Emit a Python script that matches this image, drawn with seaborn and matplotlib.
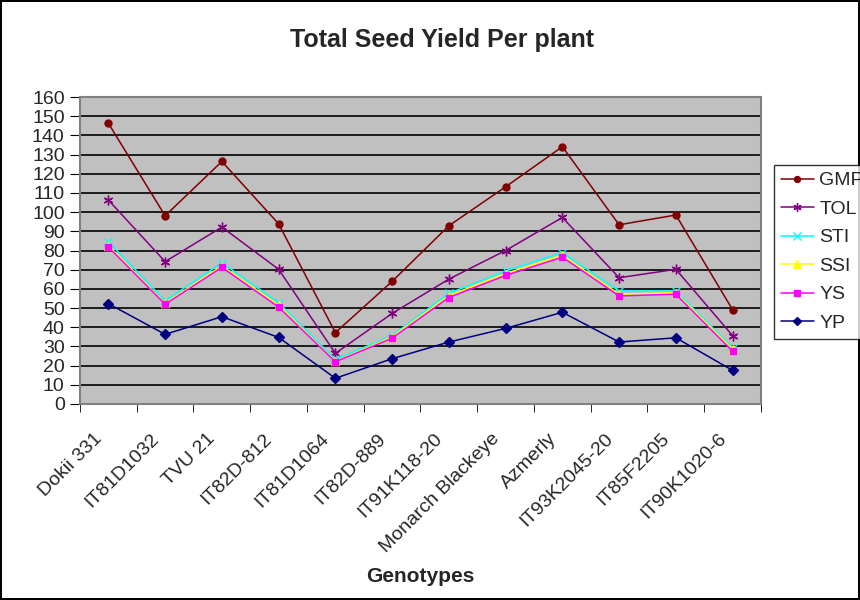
import numpy as np
import pandas as pd
import matplotlib
matplotlib.use('Agg')
import matplotlib.pyplot as plt
import matplotlib.transforms as mtransforms
import seaborn as sns

genotypes = ['Dokii 331', 'IT81D1032', 'TVU 21', 'IT82D-812', 'IT81D1064', 'IT82D-889',
             'IT91K118-20', 'Monarch Blackeye', 'Azmerly', 'IT93K2045-20', 'IT85F2205', 'IT90K1020-6']

gmp = [146.3, 98.1, 126.4, 93.9, 37.2, 63.9, 92.9, 113.2, 134.1, 93.4, 98.5, 49.1]
tol = [106.3, 74.2, 92.2, 70.2, 26.4, 47.2, 65.1, 80.0, 97.2, 65.8, 70.2, 35.6]
sti = [84.6, 53.8, 73.6, 52.8, 23.2, 35.6, 57.7, 69.3, 78.9, 58.9, 58.9, 29.3]
ssi = [82.5, 52.5, 72.0, 51.5, 22.2, 35.0, 56.5, 68.0, 77.5, 57.2, 58.0, 28.5]
ys = [81.8, 52.0, 71.2, 50.5, 22.0, 34.3, 55.5, 67.0, 76.5, 56.3, 57.2, 27.5]
yp = [52.3, 36.3, 45.5, 34.7, 13.4, 23.6, 32.3, 39.4, 47.8, 32.3, 34.5, 17.5]

series = ['GMP', 'TOL', 'STI', 'SSI', 'YS', 'YP']
values = [gmp, tol, sti, ssi, ys, yp]
colores = ['#800000', '#800080', '#00FFFF', '#FFFF00', '#FF00FF', '#000080']
marcadores = ['o', (6, 2, 0), 'x', '^', 's', 'D']
tamanos = [5, 7, 6, 6, 5, 5]

sns.set_style('white')
plt.rcParams['font.family'] = ['Liberation Sans', 'DejaVu Sans']

fig = plt.figure(figsize=(8.6, 6), dpi=100)
fig.patch.set_edgecolor('black')
fig.patch.set_linewidth(1.5)
ax = fig.add_axes([80/860, 196/600, 681/860, 307/600])
ax.set_facecolor('#C0C0C0')

x = np.arange(len(genotypes))
for nombre, vals, color, marca, tam in zip(series, values, colores, marcadores, tamanos):
    df = pd.DataFrame({'x': x, 'y': vals})
    sns.lineplot(data=df, x='x', y='y', ax=ax, color=color, marker=marca,
                 markersize=tam, markeredgecolor=color, markerfacecolor=color,
                 markeredgewidth=1, linewidth=1.1, label=nombre)

ax.set_xlim(-0.5, len(genotypes) - 0.5)
ax.set_ylim(0, 160)
ax.set_yticks(range(0, 161, 10))
ax.tick_params(axis='y', labelsize=14, length=7, pad=4, direction='out', left=True, color='black')
ax.yaxis.grid(True, color='black', linewidth=1.2)
ax.set_axisbelow(True)

# etiquetas en el centro de cada categoria, marcas entre categorias (estilo Excel)
ax.set_xticks(x)
ax.set_xticklabels(genotypes, rotation=45, ha='right', rotation_mode='anchor', fontsize=14)
ax.tick_params(axis='x', length=0, pad=19)
desplazar = mtransforms.ScaledTranslation(-15/100, 0, fig.dpi_scale_trans)
for etiqueta in ax.get_xticklabels():
    etiqueta.set_transform(etiqueta.get_transform() + desplazar)
ax.set_xticks(np.arange(-0.5, len(genotypes), 1), minor=True)
ax.tick_params(axis='x', which='minor', length=6, bottom=True, direction='out', color='black')

for s in ax.spines.values():
    s.set_color('#808080')
    s.set_linewidth(1.5)

ax.set_xlabel('Genotypes', fontsize=15, fontweight='bold', labelpad=8)
ax.set_ylabel('')
fig.text(442/860, 1 - 40/600, 'Total Seed Yield Per plant', fontsize=18, fontweight='bold',
         ha='center', va='center')

leg = ax.legend(loc='upper left', bbox_to_anchor=(774/860, 1 - 165/600),
                bbox_transform=fig.transFigure, fontsize=14, frameon=True, fancybox=False,
                handlelength=1.7, borderpad=0.35, labelspacing=0.56, handletextpad=0.28,
                borderaxespad=0, markerscale=0.85)
leg.get_frame().set_edgecolor('black')
leg.get_frame().set_linewidth(1)

fig.savefig('out.png', dpi=100)
